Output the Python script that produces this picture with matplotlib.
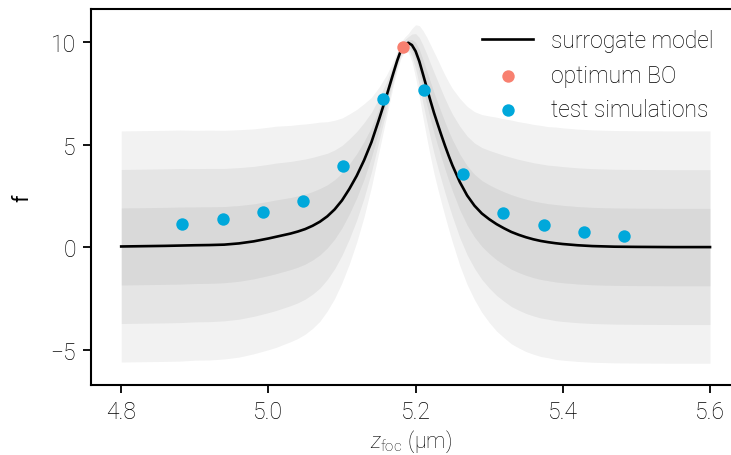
import numpy as np
import matplotlib
matplotlib.use("Agg")
import matplotlib.pyplot as plt

plt.rcParams["font.family"] = ["Roboto", "DejaVu Sans"]
plt.rcParams["font.weight"] = "light"
plt.rcParams["mathtext.fontset"] = "custom"
plt.rcParams["mathtext.rm"] = "Roboto:light"
plt.rcParams["mathtext.it"] = "Roboto:italic:light"

# surrogate model (GP mean and std)
z_grid = [4.80, 4.82, 4.84, 4.86, 4.88, 4.90, 4.92, 4.94, 4.96, 4.98,
          5.00, 5.01, 5.02, 5.03, 5.04, 5.05, 5.06, 5.07, 5.08, 5.09,
          5.10, 5.11, 5.12, 5.13, 5.14, 5.15, 5.16, 5.165, 5.17, 5.175,
          5.18, 5.185, 5.19, 5.195, 5.20, 5.205, 5.21, 5.215, 5.22, 5.225,
          5.23, 5.235, 5.24, 5.245, 5.25, 5.26, 5.27, 5.28, 5.29, 5.30,
          5.31, 5.32, 5.33, 5.34, 5.35, 5.36, 5.37, 5.38, 5.39, 5.40,
          5.42, 5.44, 5.47, 5.50, 5.55, 5.60]
mean = [0.03, 0.04, 0.05, 0.06, 0.075, 0.09, 0.10, 0.12, 0.18, 0.28,
        0.42, 0.50, 0.58, 0.66, 0.76, 0.88, 1.04, 1.24, 1.50, 1.84,
        2.28, 2.84, 3.48, 4.24, 5.12, 6.20, 7.32, 7.92, 8.52, 9.10,
        9.60, 9.88, 9.97, 9.86, 9.56, 9.07, 8.44, 7.80, 7.16, 6.55,
        6.00, 5.46, 4.94, 4.45, 3.99, 3.18, 2.52, 2.02, 1.64, 1.36,
        1.12, 0.92, 0.74, 0.60, 0.48, 0.38, 0.30, 0.24, 0.19, 0.15,
        0.09, 0.05, 0.02, 0.01, 0.00, 0.00]
sigma = [1.88, 1.88, 1.88, 1.88, 1.88, 1.87, 1.87, 1.86, 1.85, 1.83,
         1.81, 1.80, 1.78, 1.76, 1.74, 1.71, 1.67, 1.62, 1.54, 1.45,
         1.34, 1.22, 1.08, 0.92, 0.73, 0.53, 0.35, 0.27, 0.20, 0.15,
         0.13, 0.12, 0.15, 0.27, 0.43, 0.58, 0.71, 0.82, 0.91, 0.99,
         1.05, 1.10, 1.15, 1.20, 1.25, 1.36, 1.45, 1.53, 1.61, 1.68,
         1.74, 1.78, 1.82, 1.84, 1.86, 1.87, 1.88, 1.88, 1.89, 1.89,
         1.89, 1.89, 1.89, 1.89, 1.89, 1.89]

# optimum found by BO
z_opt = [5.183]
f_opt = [9.75]

# test simulations
z_test = [4.883, 4.938, 4.992, 5.047, 5.101, 5.156,
          5.211, 5.265, 5.319, 5.374, 5.429, 5.483]
f_test = [1.13, 1.36, 1.70, 2.25, 3.96, 7.25,
          7.65, 3.58, 1.68, 1.08, 0.74, 0.52]

z = np.array(z_grid)
mu = np.array(mean)
sd = np.array(sigma)

fig = plt.figure(figsize=(7.31, 4.56), dpi=100)
ax = fig.add_axes([0.1245, 0.1535, 0.8755, 0.8255])

# 1, 2, 3 sigma bands, stacked so the inner one is darkest
for k in (3, 2, 1):
    ax.fill_between(z, mu - k * sd, mu + k * sd, color="k", alpha=0.05, lw=0, zorder=1)

ax.plot(z, mu, color="k", lw=1.9, label="surrogate model", zorder=3)
ax.scatter(z_opt, f_opt, s=80, color="#f88070", lw=0, label="optimum BO", zorder=4)
ax.scatter(z_test, f_test, s=80, color="#00a8db", lw=0, label="test simulations", zorder=4)

ax.set_xlim(4.759, 5.6285)
ax.set_ylim(-6.73, 11.64)
ax.set_xticks([4.8, 5.0, 5.2, 5.4, 5.6])
ax.set_yticks([-5, 0, 5, 10])
ax.set_xticklabels(["4.8", "5.0", "5.2", "5.4", "5.6"])
ax.set_yticklabels(["\u22125", "0", "5", "10"])
ax.tick_params(direction="out", length=6, width=1.3, labelsize=16.5, pad=5)
for s in ("left", "bottom", "top"):
    ax.spines[s].set_linewidth(1.5)
ax.spines["right"].set_visible(False)

ax.set_xlabel(r"$z_{\mathrm{foc}}\ (\mathrm{µm})$", fontsize=15.5, labelpad=3)
ax.set_ylabel("f", fontsize=15.5, labelpad=12)

ax.legend(loc="upper right", bbox_to_anchor=(1.005, 1.0), frameon=False,
          fontsize=16.5, handlelength=2.2, handletextpad=0.8, labelspacing=0.5)

fig.savefig("out.png", dpi=100)
